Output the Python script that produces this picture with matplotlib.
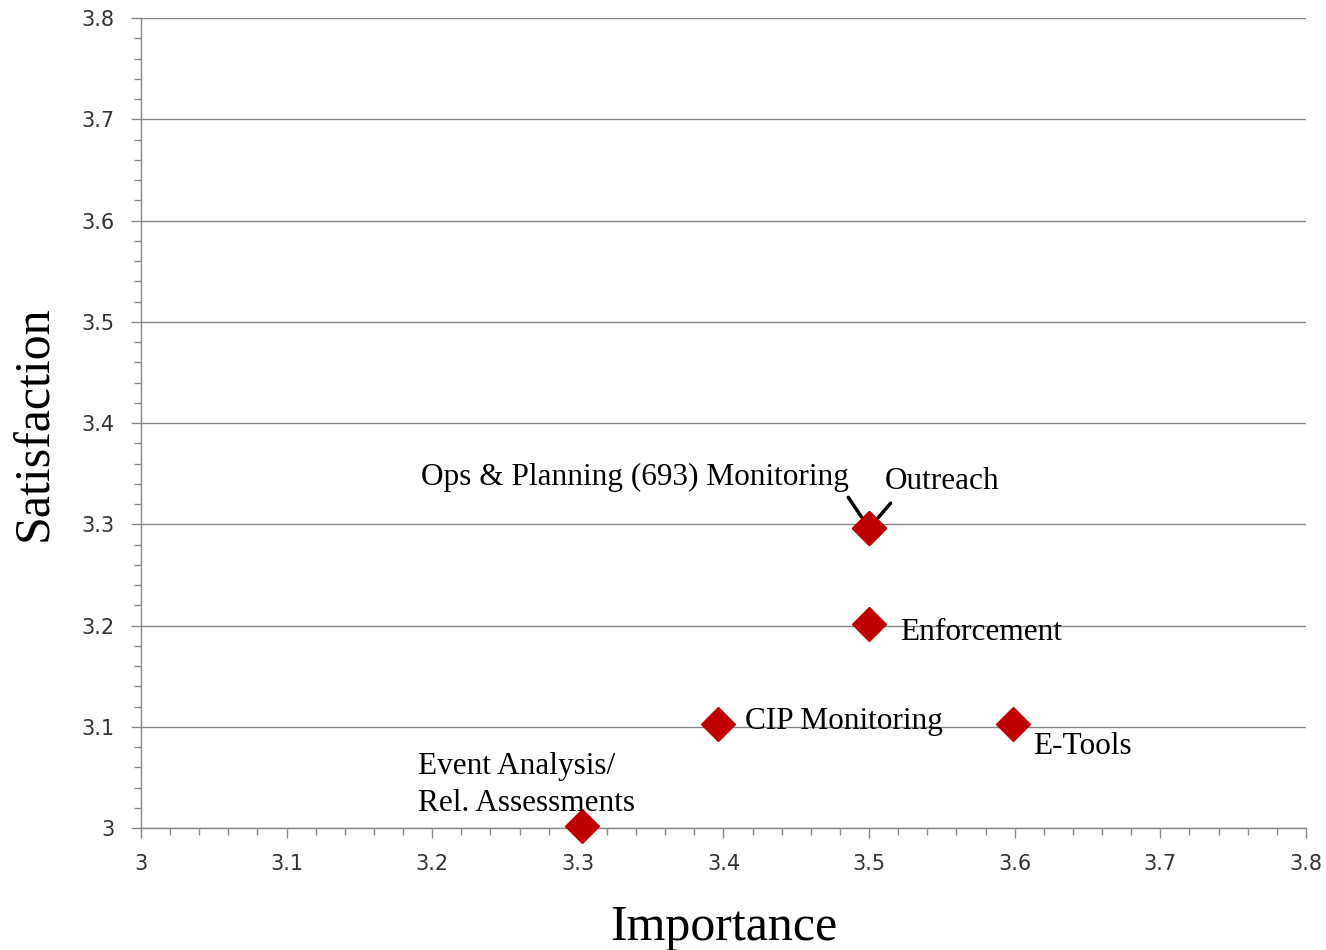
import matplotlib.pyplot as plt
from matplotlib.ticker import MultipleLocator

# Survey results: importance vs satisfaction
labels = ['Event Analysis/\nRel. Assessments', 'CIP Monitoring', 'Enforcement',
          'E-Tools', 'Ops & Planning (693) Monitoring', 'Outreach']
importance = [3.303, 3.396, 3.50, 3.599, 3.50, 3.50]
satisfaction = [3.002, 3.103, 3.202, 3.103, 3.296, 3.296]

# where each label sits (data coords, left edge / vertical centre)
label_x = [3.190, 3.415, 3.521, 3.6125, 3.1925, 3.511]
label_y = [3.0425, 3.105, 3.193, 3.081, 3.346, 3.342]

fig = plt.figure(figsize=(13.26, 9.5), dpi=100)
ax = fig.add_axes([0.1063, 0.1284, 0.8786, 0.8526])

ax.set_xlim(3, 3.8)
ax.set_ylim(3, 3.8)

grid_color = '#868686'
ax.yaxis.grid(True, color=grid_color, lw=1.0)
ax.set_axisbelow(True)

for s in ['top', 'right']:
    ax.spines[s].set_visible(False)
for s in ['left', 'bottom']:
    ax.spines[s].set_color(grid_color)
    ax.spines[s].set_linewidth(1.0)

ax.xaxis.set_major_locator(MultipleLocator(0.1))
ax.yaxis.set_major_locator(MultipleLocator(0.1))
ax.xaxis.set_minor_locator(MultipleLocator(0.02))
ax.yaxis.set_minor_locator(MultipleLocator(0.02))
ax.tick_params(which='major', direction='out', length=7, width=1, color=grid_color,
               labelsize=15, labelcolor='#333333')
ax.tick_params(which='minor', direction='out', length=5, width=1, color=grid_color)
ax.tick_params(axis='y', which='major', pad=12)
ax.tick_params(axis='x', which='major', pad=12)
ax.xaxis.set_major_formatter(lambda v, p: f'{v:g}')
ax.yaxis.set_major_formatter(lambda v, p: f'{v:g}')

ax.plot(importance, satisfaction, 'D', color='#C00000', ms=17, mec='#C00000',
        ls='none', zorder=3, clip_on=False)

serif = 'Liberation Serif'
fs = 22.5
for i, lab in enumerate(labels):
    if lab.startswith('Ops'):
        ax.annotate(lab, xy=(importance[i], satisfaction[i]), xytext=(label_x[i], label_y[i]),
                    ha='left', va='center', fontsize=fs, family=serif,
                    arrowprops=dict(arrowstyle='-', color='black', lw=2.5,
                                    relpos=(0.99, 0), shrinkA=2, shrinkB=10))
    elif lab == 'Outreach':
        ax.annotate(lab, xy=(importance[i], satisfaction[i]), xytext=(label_x[i], label_y[i]),
                    ha='left', va='center', fontsize=fs, family=serif,
                    arrowprops=dict(arrowstyle='-', color='black', lw=2.5,
                                    relpos=(0.1, 0), shrinkA=4, shrinkB=10))
    else:
        ax.text(label_x[i], label_y[i], lab, ha='left', va='center',
                fontsize=fs, family=serif, linespacing=1.35)

ax.set_xlabel('Importance', fontsize=36, family=serif, labelpad=22)
ax.set_ylabel('Satisfaction', fontsize=36, family=serif, labelpad=17)

fig.savefig('out.png', dpi=100)
